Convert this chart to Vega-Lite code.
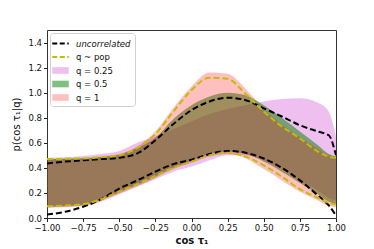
{
  "$schema": "https://vega.github.io/schema/vega-lite/v6.json",
  "autosize": {"type": "none"},
  "width": 289,
  "height": 188,
  "padding": {"left": 47, "top": 30, "right": 38, "bottom": 31},
  "config": {
    "font": "DejaVu Sans",
    "view": {"stroke": "#333", "strokeWidth": 1},
    "axis": {"grid": false, "domain": false, "tickColor": "#222", "tickSize": 3.5, "labelFontSize": 8.5, "labelColor": "#111", "titleColor": "#111", "labelPadding": 2, "labelOverlap": false, "labelFlush": false, "labelFont": "DejaVu Sans", "titleFont": "DejaVu Sans"},
    "axisY": {"values": [0, 0.2, 0.4, 0.6, 0.8, 1.0, 1.2, 1.4], "format": ".1f", "titleFontSize": 10, "titleFontWeight": "normal", "titlePadding": 6}
  },
  "datasets": {
    "curves": [
      {"series": "uncorrelated", "x": -1, "lo": 0.027, "hi": 0.435},
      {"series": "uncorrelated", "x": -0.875, "lo": 0.05, "hi": 0.45},
      {"series": "uncorrelated", "x": -0.75, "lo": 0.09, "hi": 0.46},
      {"series": "uncorrelated", "x": -0.625, "lo": 0.15, "hi": 0.47},
      {"series": "uncorrelated", "x": -0.5, "lo": 0.235, "hi": 0.48},
      {"series": "uncorrelated", "x": -0.375, "lo": 0.3, "hi": 0.515},
      {"series": "uncorrelated", "x": -0.25, "lo": 0.37, "hi": 0.62},
      {"series": "uncorrelated", "x": -0.125, "lo": 0.43, "hi": 0.75},
      {"series": "uncorrelated", "x": 0, "lo": 0.465, "hi": 0.86},
      {"series": "uncorrelated", "x": 0.125, "lo": 0.51, "hi": 0.93},
      {"series": "uncorrelated", "x": 0.25, "lo": 0.535, "hi": 0.96},
      {"series": "uncorrelated", "x": 0.375, "lo": 0.52, "hi": 0.94},
      {"series": "uncorrelated", "x": 0.5, "lo": 0.475, "hi": 0.875},
      {"series": "uncorrelated", "x": 0.625, "lo": 0.4, "hi": 0.81},
      {"series": "uncorrelated", "x": 0.75, "lo": 0.3, "hi": 0.74},
      {"series": "uncorrelated", "x": 0.875, "lo": 0.18, "hi": 0.69},
      {"series": "uncorrelated", "x": 0.95, "lo": 0.1, "hi": 0.66},
      {"series": "uncorrelated", "x": 1, "lo": 0.02, "hi": 0.5},

      {"series": "q ~ pop", "x": -1, "lo": 0.094, "hi": 0.47},
      {"series": "q ~ pop", "x": -0.875, "lo": 0.1, "hi": 0.472},
      {"series": "q ~ pop", "x": -0.75, "lo": 0.11, "hi": 0.475},
      {"series": "q ~ pop", "x": -0.625, "lo": 0.15, "hi": 0.485},
      {"series": "q ~ pop", "x": -0.5, "lo": 0.21, "hi": 0.5},
      {"series": "q ~ pop", "x": -0.375, "lo": 0.27, "hi": 0.56},
      {"series": "q ~ pop", "x": -0.25, "lo": 0.336, "hi": 0.67},
      {"series": "q ~ pop", "x": -0.125, "lo": 0.4, "hi": 0.85},
      {"series": "q ~ pop", "x": 0, "lo": 0.45, "hi": 1.02},
      {"series": "q ~ pop", "x": 0.125, "lo": 0.5, "hi": 1.12},
      {"series": "q ~ pop", "x": 0.25, "lo": 0.52, "hi": 1.11},
      {"series": "q ~ pop", "x": 0.375, "lo": 0.49, "hi": 0.99},
      {"series": "q ~ pop", "x": 0.5, "lo": 0.42, "hi": 0.85},
      {"series": "q ~ pop", "x": 0.625, "lo": 0.33, "hi": 0.73},
      {"series": "q ~ pop", "x": 0.75, "lo": 0.23, "hi": 0.635},
      {"series": "q ~ pop", "x": 0.875, "lo": 0.16, "hi": 0.53},
      {"series": "q ~ pop", "x": 0.95, "lo": 0.12, "hi": 0.49},
      {"series": "q ~ pop", "x": 1, "lo": 0.11, "hi": 0.48},

      {"series": "q = 0.25", "x": -1, "lo": 0.08, "hi": 0.48},
      {"series": "q = 0.25", "x": -0.875, "lo": 0.085, "hi": 0.485},
      {"series": "q = 0.25", "x": -0.75, "lo": 0.095, "hi": 0.495},
      {"series": "q = 0.25", "x": -0.625, "lo": 0.13, "hi": 0.51},
      {"series": "q = 0.25", "x": -0.5, "lo": 0.19, "hi": 0.535},
      {"series": "q = 0.25", "x": -0.375, "lo": 0.25, "hi": 0.6},
      {"series": "q = 0.25", "x": -0.25, "lo": 0.31, "hi": 0.65},
      {"series": "q = 0.25", "x": -0.125, "lo": 0.37, "hi": 0.71},
      {"series": "q = 0.25", "x": 0, "lo": 0.41, "hi": 0.77},
      {"series": "q = 0.25", "x": 0.125, "lo": 0.46, "hi": 0.83},
      {"series": "q = 0.25", "x": 0.25, "lo": 0.5, "hi": 0.87},
      {"series": "q = 0.25", "x": 0.375, "lo": 0.5, "hi": 0.9},
      {"series": "q = 0.25", "x": 0.5, "lo": 0.46, "hi": 0.93},
      {"series": "q = 0.25", "x": 0.625, "lo": 0.39, "hi": 0.95},
      {"series": "q = 0.25", "x": 0.75, "lo": 0.3, "hi": 0.955},
      {"series": "q = 0.25", "x": 0.875, "lo": 0.22, "hi": 0.92},
      {"series": "q = 0.25", "x": 0.95, "lo": 0.16, "hi": 0.85},
      {"series": "q = 0.25", "x": 1, "lo": 0.14, "hi": 0.65},

      {"series": "q = 0.5", "x": -1, "lo": 0.09, "hi": 0.47},
      {"series": "q = 0.5", "x": -0.875, "lo": 0.095, "hi": 0.472},
      {"series": "q = 0.5", "x": -0.75, "lo": 0.105, "hi": 0.476},
      {"series": "q = 0.5", "x": -0.625, "lo": 0.145, "hi": 0.487},
      {"series": "q = 0.5", "x": -0.5, "lo": 0.205, "hi": 0.505},
      {"series": "q = 0.5", "x": -0.375, "lo": 0.265, "hi": 0.56},
      {"series": "q = 0.5", "x": -0.25, "lo": 0.33, "hi": 0.64},
      {"series": "q = 0.5", "x": -0.125, "lo": 0.4, "hi": 0.79},
      {"series": "q = 0.5", "x": 0, "lo": 0.455, "hi": 0.9},
      {"series": "q = 0.5", "x": 0.125, "lo": 0.51, "hi": 0.97},
      {"series": "q = 0.5", "x": 0.25, "lo": 0.53, "hi": 1.0},
      {"series": "q = 0.5", "x": 0.375, "lo": 0.51, "hi": 0.98},
      {"series": "q = 0.5", "x": 0.5, "lo": 0.45, "hi": 0.9},
      {"series": "q = 0.5", "x": 0.625, "lo": 0.37, "hi": 0.8},
      {"series": "q = 0.5", "x": 0.75, "lo": 0.28, "hi": 0.69},
      {"series": "q = 0.5", "x": 0.875, "lo": 0.19, "hi": 0.58},
      {"series": "q = 0.5", "x": 0.95, "lo": 0.13, "hi": 0.51},
      {"series": "q = 0.5", "x": 1, "lo": 0.11, "hi": 0.49},

      {"series": "q = 1", "x": -1, "lo": 0.085, "hi": 0.47},
      {"series": "q = 1", "x": -0.875, "lo": 0.09, "hi": 0.472},
      {"series": "q = 1", "x": -0.75, "lo": 0.1, "hi": 0.477},
      {"series": "q = 1", "x": -0.625, "lo": 0.14, "hi": 0.49},
      {"series": "q = 1", "x": -0.5, "lo": 0.195, "hi": 0.51},
      {"series": "q = 1", "x": -0.375, "lo": 0.255, "hi": 0.57},
      {"series": "q = 1", "x": -0.25, "lo": 0.32, "hi": 0.69},
      {"series": "q = 1", "x": -0.125, "lo": 0.39, "hi": 0.88},
      {"series": "q = 1", "x": 0, "lo": 0.44, "hi": 1.05},
      {"series": "q = 1", "x": 0.125, "lo": 0.49, "hi": 1.16},
      {"series": "q = 1", "x": 0.25, "lo": 0.51, "hi": 1.15},
      {"series": "q = 1", "x": 0.375, "lo": 0.475, "hi": 1.03},
      {"series": "q = 1", "x": 0.5, "lo": 0.39, "hi": 0.87},
      {"series": "q = 1", "x": 0.625, "lo": 0.3, "hi": 0.745},
      {"series": "q = 1", "x": 0.75, "lo": 0.21, "hi": 0.645},
      {"series": "q = 1", "x": 0.875, "lo": 0.14, "hi": 0.55},
      {"series": "q = 1", "x": 0.95, "lo": 0.095, "hi": 0.5},
      {"series": "q = 1", "x": 1, "lo": 0.085, "hi": 0.49}
    ]
  },
  "data": {"name": "curves"},
  "encoding": {
    "x": {
      "field": "x", "type": "quantitative",
      "scale": {"domain": [-1, 1], "nice": false, "zero": false},
      "axis": {"values": [-1, -0.75, -0.5, -0.25, 0, 0.25, 0.5, 0.75, 1], "labelExpr": "replace(format(datum.value, '.2f'), '-', '−')", "title": "cos τ₁", "titleFontSize": 10, "titleFontWeight": "bold", "titlePadding": 3}
    },
    "color": {
      "field": "series", "type": "nominal",
      "scale": {"domain": ["uncorrelated", "q ~ pop", "q = 0.25", "q = 0.5", "q = 1"], "range": ["#000000", "#bfbf00", "#bf00bf", "#008000", "#ff0000"]},
      "legend": {
        "title": null, "orient": "top-left", "offset": 3, "padding": 4, "rowPadding": 2.5,
        "fillColor": "white", "strokeColor": "#d0d0d0", "cornerRadius": 3,
        "labelFontSize": 8.5, "labelColor": "#111", "labelFont": "DejaVu Sans", "symbolSize": 121, "labelOffset": 9,
        "encode": {
          "symbols": {"update": {
            "shape": {"signal": "indexof(['uncorrelated','q ~ pop'], datum.value) >= 0 ? 'M-1.5,0H1.5' : 'M-1.5,-0.6H1.5V0.6H-1.5Z'"},
            "fill": {"signal": "scale('color', datum.value)"},
            "fillOpacity": {"signal": "indexof(['uncorrelated','q ~ pop'], datum.value) >= 0 ? 0 : (datum.value == 'q = 0.5' ? 0.5 : 0.25)"},
            "stroke": {"signal": "scale('color', datum.value)"},
            "strokeOpacity": {"signal": "indexof(['uncorrelated','q ~ pop'], datum.value) >= 0 ? 1 : 0"},
            "strokeWidth": {"value": 2},
            "strokeDash": {"signal": "[5, 2.5]"},
            "opacity": {"value": 1}
          }},
          "labels": {"update": {
            "fontStyle": {"signal": "datum.value == 'uncorrelated' ? 'italic' : 'normal'"}
          }}
        }
      }
    }
  },
  "layer": [
    {
      "transform": [{"filter": "datum.series == 'q = 0.25'"}],
      "mark": {"type": "area", "interpolate": "monotone", "clip": true, "fillOpacity": 0.25},
      "encoding": {
        "y": {"field": "lo", "type": "quantitative", "scale": {"domain": [0, 1.5], "nice": false}, "title": "p(cos τ₁|q)"},
        "y2": {"field": "hi"}
      }
    },
    {
      "transform": [{"filter": "datum.series == 'q = 0.5'"}],
      "mark": {"type": "area", "interpolate": "monotone", "clip": true, "fillOpacity": 0.5},
      "encoding": {
        "y": {"field": "lo", "type": "quantitative", "scale": {"domain": [0, 1.5], "nice": false}, "title": "p(cos τ₁|q)"},
        "y2": {"field": "hi"}
      }
    },
    {
      "transform": [{"filter": "datum.series == 'q = 1'"}],
      "mark": {"type": "area", "interpolate": "monotone", "clip": true, "fillOpacity": 0.25},
      "encoding": {
        "y": {"field": "lo", "type": "quantitative", "scale": {"domain": [0, 1.5], "nice": false}, "title": "p(cos τ₁|q)"},
        "y2": {"field": "hi"}
      }
    },
    {
      "transform": [
        {"filter": "indexof(['uncorrelated','q ~ pop'], datum.series) >= 0"},
        {"fold": ["lo", "hi"], "as": ["bound", "val"]}
      ],
      "mark": {"type": "line", "interpolate": "monotone", "strokeWidth": 2, "strokeDash": [6, 3], "clip": true},
      "encoding": {
        "y": {"field": "val", "type": "quantitative", "scale": {"domain": [0, 1.5], "nice": false}, "title": "p(cos τ₁|q)"},
        "detail": {"field": "bound"}
      }
    }
  ]
}
